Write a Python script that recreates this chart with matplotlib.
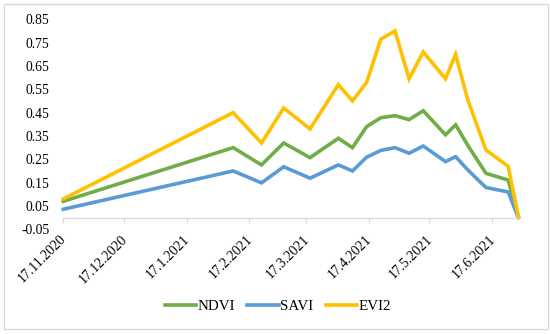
import matplotlib
matplotlib.use("Agg")
import matplotlib.pyplot as plt
import matplotlib.transforms as mtransforms
from matplotlib.patches import Rectangle
import datetime as dt

dates = ["2020-11-17", "2021-02-09", "2021-02-23", "2021-03-06", "2021-03-19",
         "2021-04-02", "2021-04-09", "2021-04-16", "2021-04-23", "2021-04-30",
         "2021-05-07", "2021-05-14", "2021-05-25", "2021-05-30", "2021-06-05",
         "2021-06-14", "2021-06-25", "2021-06-30"]
ndvi = [0.07, 0.30, 0.226, 0.32, 0.257, 0.34, 0.30, 0.39, 0.428, 0.437, 0.42,
        0.458, 0.355, 0.398, 0.31, 0.19, 0.161, 0.005]
savi = [0.036, 0.20, 0.149, 0.218, 0.169, 0.226, 0.20, 0.259, 0.288, 0.30,
        0.276, 0.307, 0.24, 0.261, 0.205, 0.129, 0.11, 0.0]
evi2 = [0.08, 0.45, 0.32, 0.47, 0.38, 0.57, 0.50, 0.58, 0.765, 0.80, 0.595,
        0.71, 0.595, 0.70, 0.505, 0.29, 0.22, 0.005]
tick_dates = ["2020-11-17", "2020-12-17", "2021-01-17", "2021-02-17",
              "2021-03-17", "2021-04-17", "2021-05-17", "2021-06-17"]
tick_labels = ["17.11.2020", "17.12.2020", "17.1.2021", "17.2.2021",
               "17.3.2021", "17.4.2021", "17.5.2021", "17.6.2021"]
y_ticks = [-0.05, 0.05, 0.15, 0.25, 0.35, 0.45, 0.55, 0.65, 0.75, 0.85]

plt.rcParams['font.family'] = ['Liberation Serif', 'DejaVu Serif']

W, H = 550, 334
fig = plt.figure(figsize=(W / 100, H / 100), dpi=100)
ax = fig.add_axes([63.3 / W, 1 - 229.3 / H, (518.3 - 63.3) / W, (229.3 - 19.3) / H])

x = [dt.datetime.strptime(d, "%Y-%m-%d") for d in dates]
lw = 2.6
ax.plot(x, ndvi, color="#70AD47", lw=lw, label="NDVI", solid_joinstyle="miter", clip_on=False)
ax.plot(x, savi, color="#5B9BD5", lw=lw, label="SAVI", solid_joinstyle="miter", clip_on=False)
ax.plot(x, evi2, color="#FFC000", lw=lw, label="EVI2", solid_joinstyle="miter", clip_on=False)

ax.set_xlim(x[0], x[-1])
ax.set_ylim(-0.05, 0.85)

ax.tick_params(axis='y', length=0, pad=10)
ax.tick_params(axis='x', direction='out', length=3.6, width=0.8, color="#D9D9D9", pad=7)

ax.set_yticks(y_ticks)
ax.set_yticklabels([f"{v:.2f}" for v in y_ticks], fontsize=9.8)

tx = [dt.datetime.strptime(d, "%Y-%m-%d") for d in tick_dates]
ax.set_xticks(tx)
ax.set_xticklabels(tick_labels, fontsize=9.8)

for s in ['top', 'right', 'left']:
    ax.spines[s].set_visible(False)
ax.spines['bottom'].set_position(('data', 0))
ax.spines['bottom'].set_color("#D9D9D9")
ax.spines['bottom'].set_linewidth(1.0)

fig.canvas.draw()
offset = mtransforms.ScaledTranslation(4 / 72, 0, fig.dpi_scale_trans)
for lab in ax.get_xticklabels():
    lab.set_rotation(45)
    lab.set_ha('right')
    lab.set_va('top')
    lab.set_transform(lab.get_transform() + offset)

fig.legend(loc='center', bbox_to_anchor=(278 / W, 1 - 306.7 / H), ncol=3,
           frameon=False, fontsize=10.8, handlelength=2.1, handletextpad=0.1,
           columnspacing=0.8)

fig.patches.append(Rectangle((4 / W, 1 - 328.5 / H), (547.5 - 4) / W, (328.5 - 4) / H,
                             transform=fig.transFigure, fill=False,
                             edgecolor="#D9D9D9", lw=1.0))

fig.savefig("out.png", dpi=100)
